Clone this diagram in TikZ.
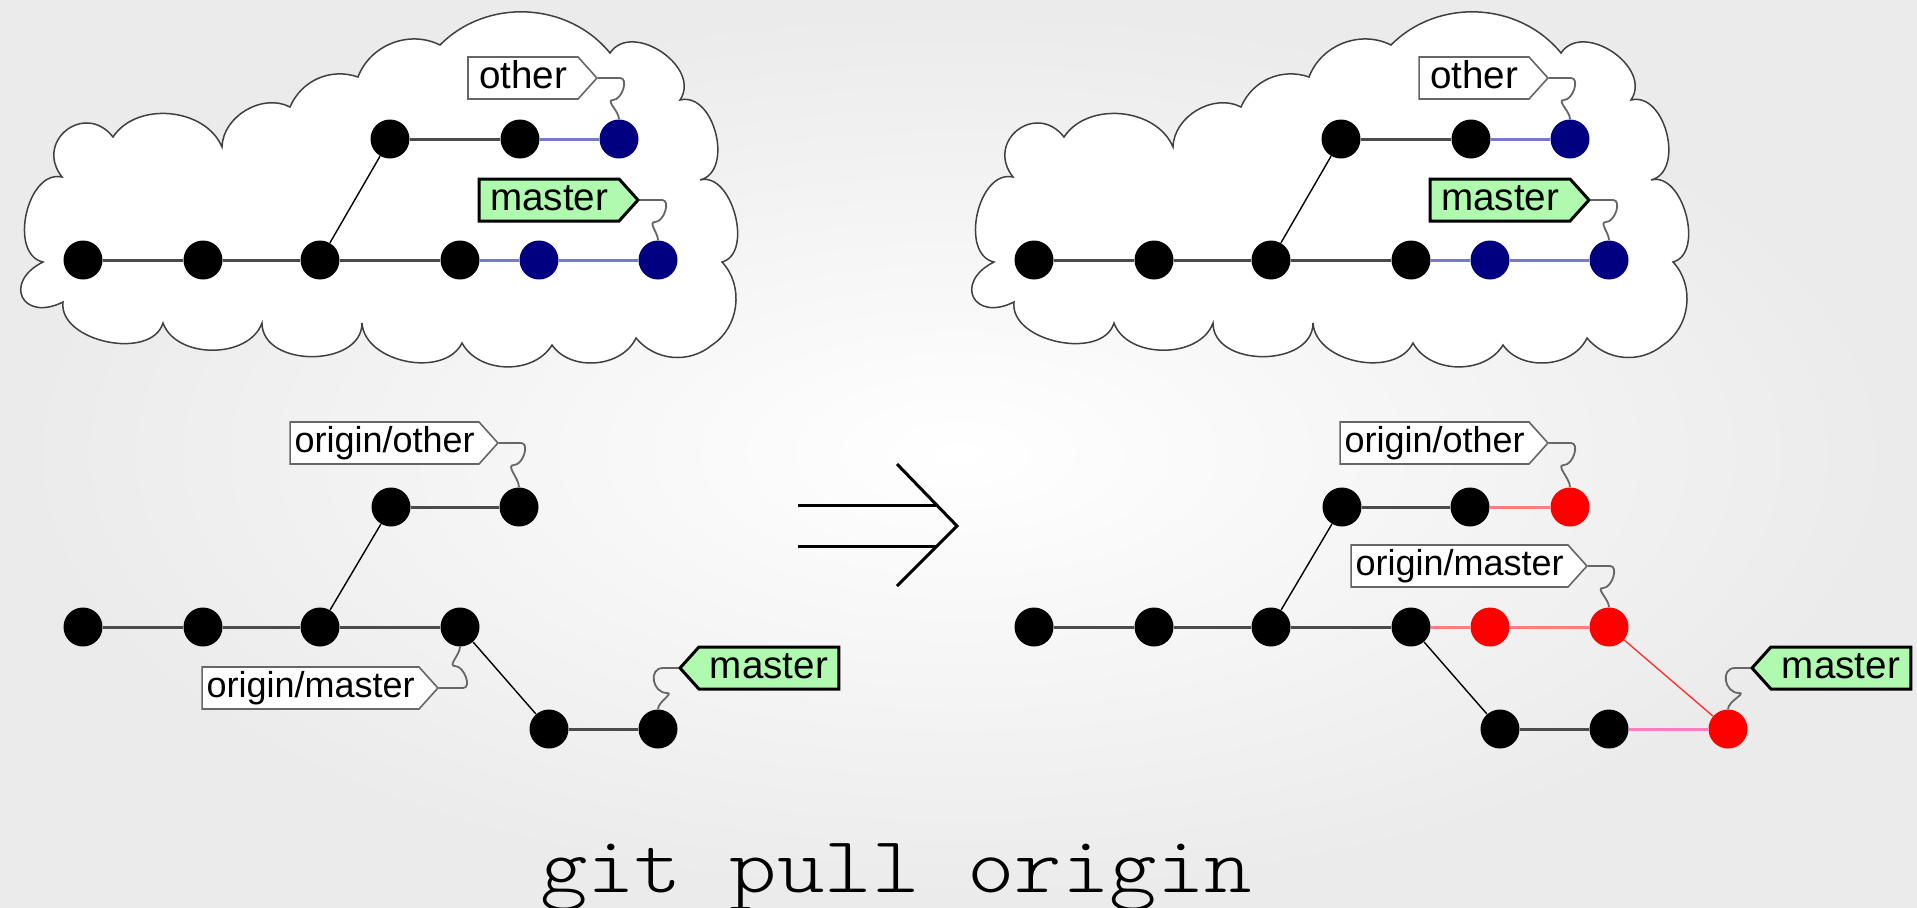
\documentclass[tikz,border=0pt]{standalone}
\usepackage{fontspec}
\usepackage{graphicx}
\setmainfont{Liberation Sans}
\newfontfamily\cmdfont{lmmonolt10-regular.otf}
\usetikzlibrary{shapes.symbols}

\definecolor{navyc}{RGB}{0,0,128}
\definecolor{redc}{RGB}{255,0,0}
\definecolor{headgreen}{RGB}{176,250,176}
\definecolor{blueline}{RGB}{120,120,205}
\definecolor{redline}{RGB}{255,125,125}
\definecolor{pinkline}{RGB}{255,125,195}
\definecolor{thinred}{RGB}{255,50,50}
\definecolor{edgegray}{RGB}{75,75,75}

\begin{document}
\begin{tikzpicture}[x=0.5pt,y=0.5pt,
  commit/.style={circle, minimum size=19.5pt, inner sep=0pt, fill=black},
  navycommit/.style={commit, fill=navyc},
  redcommit/.style={commit, fill=redc},
  edge/.style={draw=edgegray, line width=1.5pt},
  thinedge/.style={draw=black, line width=0.7pt},
  blueedge/.style={draw=blueline, line width=1.5pt},
  rededge/.style={draw=redline, line width=1.5pt},
  pinkedge/.style={draw=pinkline, line width=1.5pt},
  thinrededge/.style={draw=thinred, line width=0.7pt},
  tag/.style={signal, signal pointer angle=96, minimum height=21pt, inner ysep=0pt},
  bigtag/.style={tag, font=\fontsize{19.3pt}{23pt}\selectfont, text height=14pt, text depth=4pt, inner xsep=5.5pt},
  smalltag/.style={tag, font=\fontsize{18pt}{22pt}\selectfont, text height=13pt, text depth=4pt, inner xsep=2.2pt},
  reflbl/.style={fill=white, draw=black!60, line width=0.8pt},
  headlbl/.style={fill=headgreen, draw=black, line width=1.5pt},
  squig/.style={draw=black!60, line width=0.9pt},
  cloudline/.style={draw=black!75, line width=0.75pt, fill=white},
  bigarrow/.style={draw=black, line width=1.5pt},
  cloudshape/.pic={
    \path[cloudline] (62,-177)
      to[bend right=90,looseness=1.05] (43,-262)
      to[bend right=90,looseness=2.6] (63,-302)
      to[bend right=85] (163,-323)
      to[bend right=70] (262,-323)
      to[bend right=90,looseness=1.15] (362,-323)
      to[bend right=75] (462,-343)
      to[bend right=60] (552,-345)
      to[bend right=60] (636,-338)
      to[bend right=45] (712,-345)
      to[bend right=50] (722,-262)
      to[bend right=90] (700,-180)
      to[bend right=90,looseness=1.1] (680,-100)
      to[bend right=90,looseness=1.2] (610,-53)
      to[bend right=48] (440,-45)
      to[bend right=48] (358,-77)
      to[bend right=43] (290,-107)
      to[bend right=58] (222,-147)
      to[bend right=62] (113,-137)
      to[bend right=90,looseness=1.8] (62,-177) -- cycle;
  }
]
\useasboundingbox (0,0) rectangle (1917,-907);
\shade[inner color=white, outer color=black!8] (0,0) rectangle (1917,-907);

% ---------- remote repository (left cloud) ----------
\pic at (0,0) {cloudshape};
\node[commit] (c1) at (83,-260) {};
\node[commit] (c2) at (203,-260) {};
\node[commit] (c3) at (320,-260) {};
\node[commit] (c4) at (460,-260) {};
\node[navycommit] (c5) at (539,-260) {};
\node[navycommit] (c6) at (658,-260) {};
\node[commit] (t1) at (390,-139) {};
\node[commit] (t2) at (520,-139) {};
\node[navycommit] (t3) at (619,-139) {};
\draw[edge] (c1) -- (c2) -- (c3) -- (c4);
\draw[blueedge] (c4) -- (c5) -- (c6);
\draw[thinedge] (c3) -- (t1);
\draw[edge] (t1) -- (t2);
\draw[blueedge] (t2) -- (t3);
\node[bigtag, reflbl, signal to=east, anchor=east] (lo) at (598,-78) {other};
\node[bigtag, headlbl, signal to=east, anchor=east] (lm) at (640,-200) {master};
\draw[squig] (lo.east) -- ++(22,0) to[out=0,in=0] ++(-7,-22) to[out=180,in=90] (t3.north);
\draw[squig] (lm.east) -- ++(22,0) to[out=0,in=0] ++(-7,-22) to[out=180,in=90] (c6.north);

% ---------- remote repository (right cloud) ----------
\pic at (951,0) {cloudshape};
\node[commit] (rc1) at (1034,-260) {};
\node[commit] (rc2) at (1154,-260) {};
\node[commit] (rc3) at (1271,-260) {};
\node[commit] (rc4) at (1411,-260) {};
\node[navycommit] (rc5) at (1490,-260) {};
\node[navycommit] (rc6) at (1609,-260) {};
\node[commit] (rt1) at (1341,-139) {};
\node[commit] (rt2) at (1471,-139) {};
\node[navycommit] (rt3) at (1570,-139) {};
\draw[edge] (rc1) -- (rc2) -- (rc3) -- (rc4);
\draw[blueedge] (rc4) -- (rc5) -- (rc6);
\draw[thinedge] (rc3) -- (rt1);
\draw[edge] (rt1) -- (rt2);
\draw[blueedge] (rt2) -- (rt3);
\node[bigtag, reflbl, signal to=east, anchor=east] (rlo) at (1549,-78) {other};
\node[bigtag, headlbl, signal to=east, anchor=east] (rlm) at (1591,-200) {master};
\draw[squig] (rlo.east) -- ++(22,0) to[out=0,in=0] ++(-7,-22) to[out=180,in=90] (rt3.north);
\draw[squig] (rlm.east) -- ++(22,0) to[out=0,in=0] ++(-7,-22) to[out=180,in=90] (rc6.north);

% ---------- local repository before the pull ----------
\node[commit] (b1) at (83,-627) {};
\node[commit] (b2) at (203,-627) {};
\node[commit] (b3) at (320,-627) {};
\node[commit] (b4) at (460,-627) {};
\node[commit] (u1) at (391,-507) {};
\node[commit] (u2) at (519,-507) {};
\node[commit] (l1) at (549,-729) {};
\node[commit] (l2) at (658,-729) {};
\draw[edge] (b1) -- (b2) -- (b3) -- (b4);
\draw[thinedge] (b3) -- (u1);
\draw[edge] (u1) -- (u2);
\draw[thinedge] (b4) -- (l1);
\draw[edge] (l1) -- (l2);
\node[smalltag, reflbl, signal to=east, anchor=east] (oo) at (499,-443) {origin/other};
\node[smalltag, reflbl, signal to=east, anchor=east] (om) at (439,-688) {origin/master};
\node[bigtag, headlbl, signal to=west, anchor=west] (hm) at (678,-668) {master};
\draw[squig] (oo.east) -- ++(22,0) to[out=0,in=0] ++(-7,-22) to[out=180,in=90] (u2.north);
\draw[squig] (om.east) -- ++(24,0) to[out=0,in=0] ++(-8,22) to[out=180,in=-90] (b4.south);
\draw[squig] (hm.west) -- ++(-15,0) to[out=180,in=180,looseness=1.5] ++(4,-25) to[out=0,in=90] (l2.north);

% ---------- the pull ----------
\draw[bigarrow] (798,-505) -- (937,-505);
\draw[bigarrow] (798,-546) -- (937,-546);
\draw[bigarrow] (897,-464) -- (957,-526) -- (897,-586);

% ---------- local repository after the pull ----------
\node[commit] (B1) at (1034,-627) {};
\node[commit] (B2) at (1154,-627) {};
\node[commit] (B3) at (1271,-627) {};
\node[commit] (B4) at (1411,-627) {};
\node[redcommit] (R1) at (1490,-627) {};
\node[redcommit] (R2) at (1609,-627) {};
\node[commit] (U1) at (1342,-507) {};
\node[commit] (U2) at (1470,-507) {};
\node[redcommit] (U3) at (1570,-507) {};
\node[commit] (L1) at (1500,-729) {};
\node[commit] (L2) at (1609,-729) {};
\node[redcommit] (M) at (1728,-729) {};
\draw[edge] (B1) -- (B2) -- (B3) -- (B4);
\draw[thinedge] (B3) -- (U1);
\draw[edge] (U1) -- (U2);
\draw[rededge] (U2) -- (U3);
\draw[rededge] (B4) -- (R1) -- (R2);
\draw[thinedge] (B4) -- (L1);
\draw[edge] (L1) -- (L2);
\draw[pinkedge] (L2) -- (M);
\draw[thinrededge] (R2) -- (M);
\node[smalltag, reflbl, signal to=east, anchor=east] (OO) at (1549,-443) {origin/other};
\node[smalltag, reflbl, signal to=east, anchor=east] (OM) at (1588,-566) {origin/master};
\node[bigtag, headlbl, signal to=west, anchor=west] (HM) at (1750,-668) {master};
\draw[squig] (OO.east) -- ++(22,0) to[out=0,in=0] ++(-7,-22) to[out=180,in=90] (U3.north);
\draw[squig] (OM.east) -- ++(22,0) to[out=0,in=0] ++(-7,-22) to[out=180,in=90] (R2.north);
\draw[squig] (HM.west) -- ++(-15,0) to[out=180,in=180,looseness=1.5] ++(4,-25) to[out=0,in=90] (M.north);

% ---------- command ----------
\node[font=\cmdfont\fontsize{40pt}{46pt}\selectfont, anchor=base, inner sep=0pt] (cmd) at (896,-892) {\scalebox{1.13}[1]{git pull origin}};
\end{tikzpicture}
\end{document}
